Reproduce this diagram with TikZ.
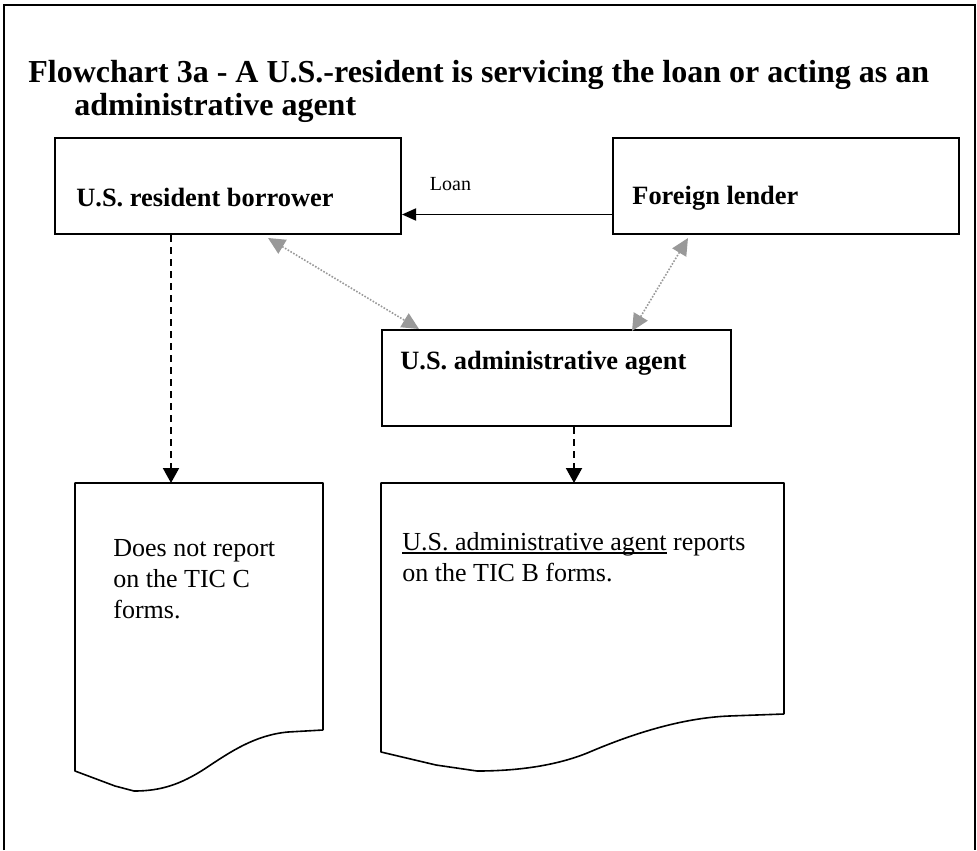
\documentclass[tikz,border=0pt]{standalone}
\usepackage{fontspec}
\setmainfont{Liberation Serif}
\usetikzlibrary{calc,arrows.meta}
\definecolor{ink}{HTML}{000000}
\definecolor{link}{HTML}{999999}
\newsavebox\ulbox
\newcommand\ulword[1]{\sbox\ulbox{#1}\rlap{\rule[-2pt]{\wd\ulbox}{0.9pt}}\usebox\ulbox}
\tikzset{
  frame/.style={draw=ink, line width=0.75pt},
  box/.style={draw=ink, line width=1pt, minimum width=173pt, minimum height=48pt, anchor=north west, inner sep=0pt},
  doc/.style={draw=ink, line width=0.8pt, line join=round},
  boxlab/.style={font=\fontsize{13.2}{15.5}\selectfont\bfseries, inner sep=0pt, anchor=base west},
  body/.style={font=\fontsize{13}{15.5}\selectfont, inner sep=0pt, anchor=base west, align=left},
  title/.style={font=\fontsize{16}{16.5}\selectfont\bfseries, inner sep=0pt, anchor=base west, align=left},
  loanlab/.style={font=\fontsize{10}{12}\selectfont, inner sep=0pt, anchor=base},
  loan/.style={draw=ink, line width=0.9pt, -{Triangle[length=7pt,width=6pt]}},
  drop/.style={draw=ink, line width=1pt, dash pattern=on 3.5pt off 2.5pt, -{Triangle[length=7.5pt,width=8pt]}},
  tie/.style={draw=link, line width=0.8pt, dash pattern=on 0.8pt off 0.8pt,
    {Triangle[length=8.5pt,width=8pt]}-{Triangle[length=8.5pt,width=8pt]}},
}
\begin{document}
\begin{tikzpicture}[x=0.5pt,y=-0.5pt]
  \useasboundingbox (0,0) rectangle (977,850);
  \draw[frame] (4,850) -- (4,5) -- (975,5) -- (975,850);

  % title (base is the last line)
  \node[title] (title) at (28,116) {Flowchart 3a - A U.S.-resident is servicing the loan or acting as an\\\hspace*{23pt}administrative agent};

  % boxes
  \node[box] (borrower) at (54,137) {};
  \node[box] (foreign) at (612,137) {};
  \node[box, minimum width=174.5pt] (agent) at (381,329) {};
  \node[boxlab] (borrower-t) at (76,206) {U.S. resident borrower};
  \node[boxlab] (foreign-t) at (632,204) {Foreign lender};
  \node[boxlab] (agent-t) at (400,369) {U.S. administrative agent};

  % loan
  \coordinate (lstart) at ($(foreign.west)+(0,28.5)$);
  \draw[loan] (lstart) -- (lstart -| borrower.east);
  \node[loanlab] (loan-t) at (450.5,191) {Loan};

  % links to the agent
  \draw[tie] ($(borrower.south)+(40,3)$) -- ($(agent.north)+(-137.5,0)$);
  \draw[tie] ($(foreign.south)+(-98,3)$) -- ($(agent.north)+(75.5,2)$);

  % documents
  \coordinate (docA) at (75,483);
  \coordinate (docB) at (381,483);
  \draw[doc] (323,730) -- (323,483) -- (docA) -- (75,771) -- (115,786) -- (134,791)
    .. controls (160,791) and (180,785) .. (206,768)
    .. controls (230,752) and (255,735) .. (288,732) -- (323,730);
  \draw[doc] (784,714) -- (784,483) -- (docB) -- (381,752) -- (436,765) -- (477,771)
    .. controls (520,771) and (560,765) .. (592,751)
    .. controls (630,735) and (680,718) .. (729,716) -- (784,714);
  \node[body] (docA-t) at (113,618) {Does not report\\on the TIC C\\forms.};
  \node[body] (docB-t) at (402,581) {\ulword{U.S. administrative agent} reports\\on the TIC B forms.};

  % reporting
  \coordinate (bdrop) at ($(borrower.south)+(-57,0)$);
  \coordinate (adrop) at ($(agent.south)+(17.5,0)$);
  \draw[drop] (bdrop) -- (bdrop |- docA);
  \draw[drop] (adrop) -- (adrop |- docB);
\end{tikzpicture}
\end{document}
